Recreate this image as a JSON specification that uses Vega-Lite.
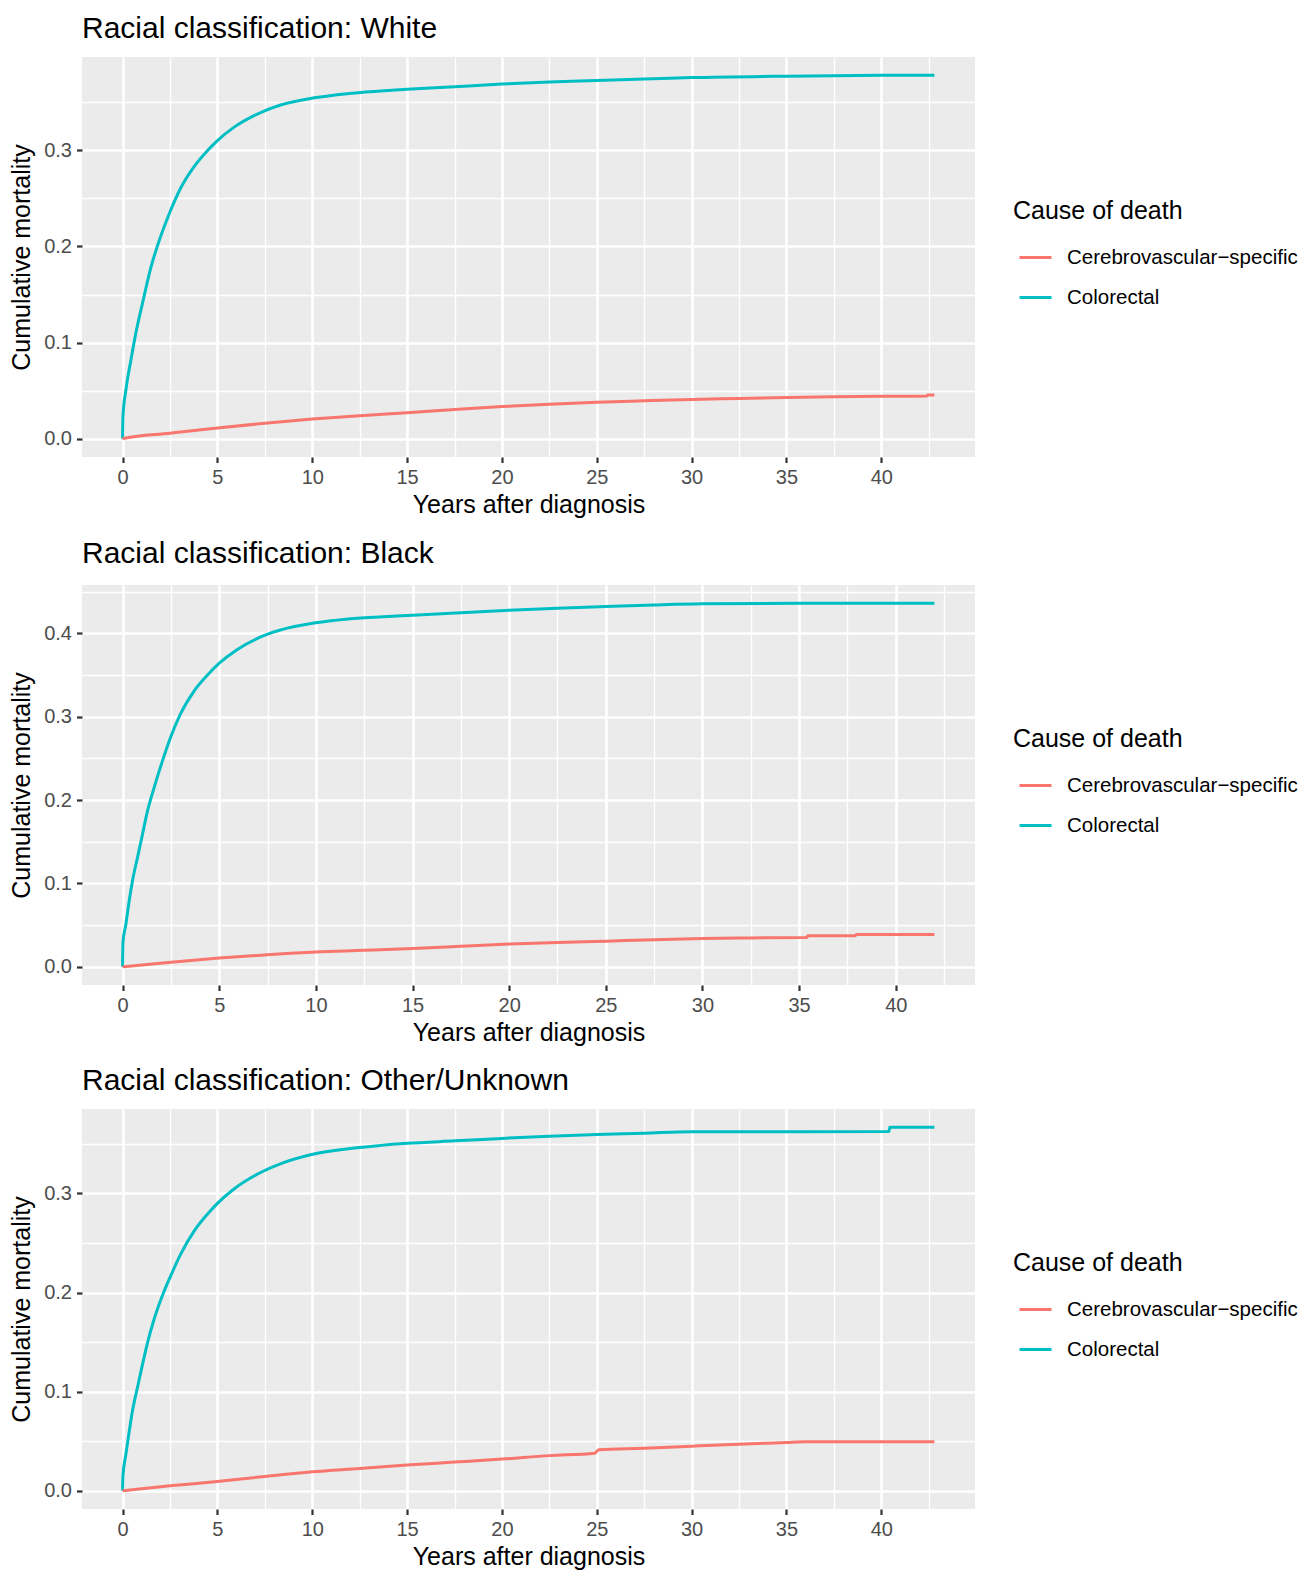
{
  "$schema": "https://vega.github.io/schema/vega-lite/v6.json",
  "background": "#FFFFFF",
  "padding": {"left": 9, "top": 14, "right": 0, "bottom": 0},
  "spacing": 20,
  "datasets": {
    "km": [
      {"p": "White", "c": "Colorectal", "t": 0, "v": 0},
      {"p": "White", "c": "Colorectal", "t": 0.02, "v": 0.023},
      {"p": "White", "c": "Colorectal", "t": 0.175, "v": 0.051},
      {"p": "White", "c": "Colorectal", "t": 0.44, "v": 0.082},
      {"p": "White", "c": "Colorectal", "t": 0.7, "v": 0.11},
      {"p": "White", "c": "Colorectal", "t": 1.05, "v": 0.141},
      {"p": "White", "c": "Colorectal", "t": 1.49, "v": 0.178},
      {"p": "White", "c": "Colorectal", "t": 1.93, "v": 0.206},
      {"p": "White", "c": "Colorectal", "t": 2.46, "v": 0.234},
      {"p": "White", "c": "Colorectal", "t": 3.07, "v": 0.261},
      {"p": "White", "c": "Colorectal", "t": 3.77, "v": 0.283},
      {"p": "White", "c": "Colorectal", "t": 4.47, "v": 0.2995},
      {"p": "White", "c": "Colorectal", "t": 5.0, "v": 0.31},
      {"p": "White", "c": "Colorectal", "t": 5.88, "v": 0.324},
      {"p": "White", "c": "Colorectal", "t": 6.93, "v": 0.336},
      {"p": "White", "c": "Colorectal", "t": 8.33, "v": 0.347},
      {"p": "White", "c": "Colorectal", "t": 10.1, "v": 0.3545},
      {"p": "White", "c": "Colorectal", "t": 11.84, "v": 0.3588},
      {"p": "White", "c": "Colorectal", "t": 13.6, "v": 0.3615},
      {"p": "White", "c": "Colorectal", "t": 15, "v": 0.3633},
      {"p": "White", "c": "Colorectal", "t": 17.5, "v": 0.366},
      {"p": "White", "c": "Colorectal", "t": 20, "v": 0.3688},
      {"p": "White", "c": "Colorectal", "t": 22.5, "v": 0.371},
      {"p": "White", "c": "Colorectal", "t": 25, "v": 0.3725},
      {"p": "White", "c": "Colorectal", "t": 27.5, "v": 0.374},
      {"p": "White", "c": "Colorectal", "t": 30, "v": 0.3755},
      {"p": "White", "c": "Colorectal", "t": 35, "v": 0.377},
      {"p": "White", "c": "Colorectal", "t": 40, "v": 0.3778},
      {"p": "White", "c": "Colorectal", "t": 42.8, "v": 0.378},
      {"p": "White", "c": "Cerebrovascular−specific", "t": 0, "v": 0},
      {"p": "White", "c": "Cerebrovascular−specific", "t": 0.1, "v": 0.0005},
      {"p": "White", "c": "Cerebrovascular−specific", "t": 2.5, "v": 0.0058},
      {"p": "White", "c": "Cerebrovascular−specific", "t": 5, "v": 0.0112},
      {"p": "White", "c": "Cerebrovascular−specific", "t": 7.5, "v": 0.0162},
      {"p": "White", "c": "Cerebrovascular−specific", "t": 10, "v": 0.0205},
      {"p": "White", "c": "Cerebrovascular−specific", "t": 12.5, "v": 0.024},
      {"p": "White", "c": "Cerebrovascular−specific", "t": 15, "v": 0.0272},
      {"p": "White", "c": "Cerebrovascular−specific", "t": 17.5, "v": 0.0305},
      {"p": "White", "c": "Cerebrovascular−specific", "t": 20, "v": 0.0335},
      {"p": "White", "c": "Cerebrovascular−specific", "t": 22.5, "v": 0.036},
      {"p": "White", "c": "Cerebrovascular−specific", "t": 25, "v": 0.038},
      {"p": "White", "c": "Cerebrovascular−specific", "t": 27.5, "v": 0.0395},
      {"p": "White", "c": "Cerebrovascular−specific", "t": 30, "v": 0.041},
      {"p": "White", "c": "Cerebrovascular−specific", "t": 32.5, "v": 0.042},
      {"p": "White", "c": "Cerebrovascular−specific", "t": 35, "v": 0.043},
      {"p": "White", "c": "Cerebrovascular−specific", "t": 37.5, "v": 0.0437},
      {"p": "White", "c": "Cerebrovascular−specific", "t": 40, "v": 0.0442},
      {"p": "White", "c": "Cerebrovascular−specific", "t": 42.4, "v": 0.0444},
      {"p": "White", "c": "Cerebrovascular−specific", "t": 42.45, "v": 0.0455},
      {"p": "White", "c": "Cerebrovascular−specific", "t": 42.8, "v": 0.0455},
      {"p": "Black", "c": "Colorectal", "t": 0, "v": 0},
      {"p": "Black", "c": "Colorectal", "t": 0.02, "v": 0.029},
      {"p": "Black", "c": "Colorectal", "t": 0.17, "v": 0.051},
      {"p": "Black", "c": "Colorectal", "t": 0.34, "v": 0.079},
      {"p": "Black", "c": "Colorectal", "t": 0.51, "v": 0.103},
      {"p": "Black", "c": "Colorectal", "t": 0.77, "v": 0.131},
      {"p": "Black", "c": "Colorectal", "t": 1.03, "v": 0.159},
      {"p": "Black", "c": "Colorectal", "t": 1.28, "v": 0.186},
      {"p": "Black", "c": "Colorectal", "t": 1.62, "v": 0.214},
      {"p": "Black", "c": "Colorectal", "t": 2.05, "v": 0.246},
      {"p": "Black", "c": "Colorectal", "t": 2.48, "v": 0.275},
      {"p": "Black", "c": "Colorectal", "t": 2.99, "v": 0.303},
      {"p": "Black", "c": "Colorectal", "t": 3.68, "v": 0.33},
      {"p": "Black", "c": "Colorectal", "t": 4.36, "v": 0.349},
      {"p": "Black", "c": "Colorectal", "t": 5.0, "v": 0.364},
      {"p": "Black", "c": "Colorectal", "t": 5.9, "v": 0.38},
      {"p": "Black", "c": "Colorectal", "t": 7.09, "v": 0.395},
      {"p": "Black", "c": "Colorectal", "t": 8.12, "v": 0.4035},
      {"p": "Black", "c": "Colorectal", "t": 10, "v": 0.4125},
      {"p": "Black", "c": "Colorectal", "t": 11.54, "v": 0.4168},
      {"p": "Black", "c": "Colorectal", "t": 13.25, "v": 0.4195},
      {"p": "Black", "c": "Colorectal", "t": 15, "v": 0.4215},
      {"p": "Black", "c": "Colorectal", "t": 17.5, "v": 0.4244},
      {"p": "Black", "c": "Colorectal", "t": 20, "v": 0.4275},
      {"p": "Black", "c": "Colorectal", "t": 22.5, "v": 0.43},
      {"p": "Black", "c": "Colorectal", "t": 25, "v": 0.432},
      {"p": "Black", "c": "Colorectal", "t": 27.5, "v": 0.4338},
      {"p": "Black", "c": "Colorectal", "t": 30, "v": 0.4352},
      {"p": "Black", "c": "Colorectal", "t": 35, "v": 0.436},
      {"p": "Black", "c": "Colorectal", "t": 42, "v": 0.436},
      {"p": "Black", "c": "Cerebrovascular−specific", "t": 0, "v": 0},
      {"p": "Black", "c": "Cerebrovascular−specific", "t": 2.5, "v": 0.0055},
      {"p": "Black", "c": "Cerebrovascular−specific", "t": 5, "v": 0.0105},
      {"p": "Black", "c": "Cerebrovascular−specific", "t": 7.5, "v": 0.0145},
      {"p": "Black", "c": "Cerebrovascular−specific", "t": 10, "v": 0.0178},
      {"p": "Black", "c": "Cerebrovascular−specific", "t": 12.5, "v": 0.0198},
      {"p": "Black", "c": "Cerebrovascular−specific", "t": 15, "v": 0.022},
      {"p": "Black", "c": "Cerebrovascular−specific", "t": 17.5, "v": 0.0246},
      {"p": "Black", "c": "Cerebrovascular−specific", "t": 20, "v": 0.0273},
      {"p": "Black", "c": "Cerebrovascular−specific", "t": 22.5, "v": 0.0292},
      {"p": "Black", "c": "Cerebrovascular−specific", "t": 25, "v": 0.0308},
      {"p": "Black", "c": "Cerebrovascular−specific", "t": 27.5, "v": 0.0326},
      {"p": "Black", "c": "Cerebrovascular−specific", "t": 30, "v": 0.0339},
      {"p": "Black", "c": "Cerebrovascular−specific", "t": 32.5, "v": 0.0347},
      {"p": "Black", "c": "Cerebrovascular−specific", "t": 35.4, "v": 0.0352},
      {"p": "Black", "c": "Cerebrovascular−specific", "t": 35.45, "v": 0.0372},
      {"p": "Black", "c": "Cerebrovascular−specific", "t": 37.9, "v": 0.0372},
      {"p": "Black", "c": "Cerebrovascular−specific", "t": 37.95, "v": 0.0388},
      {"p": "Black", "c": "Cerebrovascular−specific", "t": 42, "v": 0.0388},
      {"p": "Other/Unknown", "c": "Colorectal", "t": 0, "v": 0},
      {"p": "Other/Unknown", "c": "Colorectal", "t": 0.02, "v": 0.015},
      {"p": "Other/Unknown", "c": "Colorectal", "t": 0.175, "v": 0.037},
      {"p": "Other/Unknown", "c": "Colorectal", "t": 0.35, "v": 0.06},
      {"p": "Other/Unknown", "c": "Colorectal", "t": 0.52, "v": 0.0805},
      {"p": "Other/Unknown", "c": "Colorectal", "t": 0.78, "v": 0.104},
      {"p": "Other/Unknown", "c": "Colorectal", "t": 1.05, "v": 0.1275},
      {"p": "Other/Unknown", "c": "Colorectal", "t": 1.31, "v": 0.149},
      {"p": "Other/Unknown", "c": "Colorectal", "t": 1.66, "v": 0.173},
      {"p": "Other/Unknown", "c": "Colorectal", "t": 2.1, "v": 0.197},
      {"p": "Other/Unknown", "c": "Colorectal", "t": 2.54, "v": 0.217},
      {"p": "Other/Unknown", "c": "Colorectal", "t": 3.07, "v": 0.239},
      {"p": "Other/Unknown", "c": "Colorectal", "t": 3.77, "v": 0.262},
      {"p": "Other/Unknown", "c": "Colorectal", "t": 4.47, "v": 0.279},
      {"p": "Other/Unknown", "c": "Colorectal", "t": 5.0, "v": 0.29},
      {"p": "Other/Unknown", "c": "Colorectal", "t": 5.84, "v": 0.304},
      {"p": "Other/Unknown", "c": "Colorectal", "t": 6.88, "v": 0.317},
      {"p": "Other/Unknown", "c": "Colorectal", "t": 8.28, "v": 0.3295},
      {"p": "Other/Unknown", "c": "Colorectal", "t": 9.97, "v": 0.3392},
      {"p": "Other/Unknown", "c": "Colorectal", "t": 11.8, "v": 0.3448},
      {"p": "Other/Unknown", "c": "Colorectal", "t": 13.5, "v": 0.3482},
      {"p": "Other/Unknown", "c": "Colorectal", "t": 15, "v": 0.3505},
      {"p": "Other/Unknown", "c": "Colorectal", "t": 17.5, "v": 0.353},
      {"p": "Other/Unknown", "c": "Colorectal", "t": 20, "v": 0.3555},
      {"p": "Other/Unknown", "c": "Colorectal", "t": 22.5, "v": 0.3577},
      {"p": "Other/Unknown", "c": "Colorectal", "t": 25, "v": 0.3594},
      {"p": "Other/Unknown", "c": "Colorectal", "t": 27.5, "v": 0.3607},
      {"p": "Other/Unknown", "c": "Colorectal", "t": 30, "v": 0.3622},
      {"p": "Other/Unknown", "c": "Colorectal", "t": 40.4, "v": 0.3624},
      {"p": "Other/Unknown", "c": "Colorectal", "t": 40.45, "v": 0.3668},
      {"p": "Other/Unknown", "c": "Colorectal", "t": 42.8, "v": 0.3668},
      {"p": "Other/Unknown", "c": "Cerebrovascular−specific", "t": 0, "v": 0},
      {"p": "Other/Unknown", "c": "Cerebrovascular−specific", "t": 2.5, "v": 0.005},
      {"p": "Other/Unknown", "c": "Cerebrovascular−specific", "t": 5, "v": 0.0094},
      {"p": "Other/Unknown", "c": "Cerebrovascular−specific", "t": 7.5, "v": 0.0145},
      {"p": "Other/Unknown", "c": "Cerebrovascular−specific", "t": 10, "v": 0.0192},
      {"p": "Other/Unknown", "c": "Cerebrovascular−specific", "t": 12.5, "v": 0.0225},
      {"p": "Other/Unknown", "c": "Cerebrovascular−specific", "t": 15, "v": 0.026},
      {"p": "Other/Unknown", "c": "Cerebrovascular−specific", "t": 17.5, "v": 0.029},
      {"p": "Other/Unknown", "c": "Cerebrovascular−specific", "t": 20, "v": 0.032},
      {"p": "Other/Unknown", "c": "Cerebrovascular−specific", "t": 22.5, "v": 0.0355},
      {"p": "Other/Unknown", "c": "Cerebrovascular−specific", "t": 24.9, "v": 0.038},
      {"p": "Other/Unknown", "c": "Cerebrovascular−specific", "t": 25.1, "v": 0.0415},
      {"p": "Other/Unknown", "c": "Cerebrovascular−specific", "t": 27.5, "v": 0.043},
      {"p": "Other/Unknown", "c": "Cerebrovascular−specific", "t": 30, "v": 0.045},
      {"p": "Other/Unknown", "c": "Cerebrovascular−specific", "t": 32.5, "v": 0.047},
      {"p": "Other/Unknown", "c": "Cerebrovascular−specific", "t": 35, "v": 0.0488},
      {"p": "Other/Unknown", "c": "Cerebrovascular−specific", "t": 36, "v": 0.0495},
      {"p": "Other/Unknown", "c": "Cerebrovascular−specific", "t": 42.8, "v": 0.0495}
    ]
  },
  "data": {"name": "km"},
  "resolve": {"scale": {"x": "independent", "y": "independent", "color": "independent"}, "legend": {"color": "independent"}, "axis": {"x": "independent", "y": "independent"}},
  "vconcat": [
    {
      "title": {"text": "Racial classification: White"},
      "width": 893, "height": 400,
      "transform": [{"filter": "datum.p === 'White'"}],
      "mark": {"type": "line", "strokeWidth": 3, "interpolate": "monotone"},
      "encoding": {
        "x": {"field": "t", "type": "quantitative", "title": "Years after diagnosis",
          "scale": {"domain": [-2.14, 44.94], "nice": false, "zero": false},
          "axis": {"values": [0, 2.5, 5, 7.5, 10, 12.5, 15, 17.5, 20, 22.5, 25, 27.5, 30, 32.5, 35, 37.5, 40, 42.5],
            "labelExpr": "datum.value % 5 === 0 ? datum.label : ''",
            "tickOpacity": {"condition": {"test": "datum.value % 5 === 0", "value": 1}, "value": 0},
            "gridWidth": {"condition": {"test": "datum.value % 5 === 0", "value": 2.6}, "value": 1.3}}},
        "y": {"field": "v", "type": "quantitative", "title": "Cumulative mortality",
          "scale": {"domain": [-0.0189, 0.3969], "nice": false, "zero": false},
          "axis": {"values": [0, 0.05, 0.1, 0.15, 0.2, 0.25, 0.3, 0.35],
            "labelExpr": "round(datum.value*20) % 2 === 0 ? format(datum.value, '.1f') : ''",
            "tickOpacity": {"condition": {"test": "round(datum.value*20) % 2 === 0", "value": 1}, "value": 0},
            "gridWidth": {"condition": {"test": "round(datum.value*20) % 2 === 0", "value": 2.6}, "value": 1.3}}},
        "color": {"field": "c", "type": "nominal", "title": "Cause of death",
          "scale": {"domain": ["Cerebrovascular−specific", "Colorectal"], "range": ["#F8766D", "#00BFC4"]}}
      }
    },
    {
      "title": {"text": "Racial classification: Black"},
      "width": 893, "height": 400,
      "transform": [{"filter": "datum.p === 'Black'"}],
      "mark": {"type": "line", "strokeWidth": 3, "interpolate": "monotone"},
      "encoding": {
        "x": {"field": "t", "type": "quantitative", "title": "Years after diagnosis",
          "scale": {"domain": [-2.1, 44.1], "nice": false, "zero": false},
          "axis": {"values": [0, 2.5, 5, 7.5, 10, 12.5, 15, 17.5, 20, 22.5, 25, 27.5, 30, 32.5, 35, 37.5, 40, 42.5],
            "labelExpr": "datum.value % 5 === 0 ? datum.label : ''",
            "tickOpacity": {"condition": {"test": "datum.value % 5 === 0", "value": 1}, "value": 0},
            "gridWidth": {"condition": {"test": "datum.value % 5 === 0", "value": 2.6}, "value": 1.3}}},
        "y": {"field": "v", "type": "quantitative", "title": "Cumulative mortality",
          "scale": {"domain": [-0.0218, 0.4578], "nice": false, "zero": false},
          "axis": {"values": [0, 0.05, 0.1, 0.15, 0.2, 0.25, 0.3, 0.35, 0.4, 0.45],
            "labelExpr": "round(datum.value*20) % 2 === 0 ? format(datum.value, '.1f') : ''",
            "tickOpacity": {"condition": {"test": "round(datum.value*20) % 2 === 0", "value": 1}, "value": 0},
            "gridWidth": {"condition": {"test": "round(datum.value*20) % 2 === 0", "value": 2.6}, "value": 1.3}}},
        "color": {"field": "c", "type": "nominal", "title": "Cause of death",
          "scale": {"domain": ["Cerebrovascular−specific", "Colorectal"], "range": ["#F8766D", "#00BFC4"]}}
      }
    },
    {
      "title": {"text": "Racial classification: Other/Unknown"},
      "width": 893, "height": 400,
      "transform": [{"filter": "datum.p === 'Other/Unknown'"}],
      "mark": {"type": "line", "strokeWidth": 3, "interpolate": "monotone"},
      "encoding": {
        "x": {"field": "t", "type": "quantitative", "title": "Years after diagnosis",
          "scale": {"domain": [-2.14, 44.94], "nice": false, "zero": false},
          "axis": {"values": [0, 2.5, 5, 7.5, 10, 12.5, 15, 17.5, 20, 22.5, 25, 27.5, 30, 32.5, 35, 37.5, 40, 42.5],
            "labelExpr": "datum.value % 5 === 0 ? datum.label : ''",
            "tickOpacity": {"condition": {"test": "datum.value % 5 === 0", "value": 1}, "value": 0},
            "gridWidth": {"condition": {"test": "datum.value % 5 === 0", "value": 2.6}, "value": 1.3}}},
        "y": {"field": "v", "type": "quantitative", "title": "Cumulative mortality",
          "scale": {"domain": [-0.01834, 0.38514], "nice": false, "zero": false},
          "axis": {"values": [0, 0.05, 0.1, 0.15, 0.2, 0.25, 0.3, 0.35],
            "labelExpr": "round(datum.value*20) % 2 === 0 ? format(datum.value, '.1f') : ''",
            "tickOpacity": {"condition": {"test": "round(datum.value*20) % 2 === 0", "value": 1}, "value": 0},
            "gridWidth": {"condition": {"test": "round(datum.value*20) % 2 === 0", "value": 2.6}, "value": 1.3}}},
        "color": {"field": "c", "type": "nominal", "title": "Cause of death",
          "scale": {"domain": ["Cerebrovascular−specific", "Colorectal"], "range": ["#F8766D", "#00BFC4"]}}
      }
    }
  ],
  "config": {
    "font": "Liberation Sans",
    "view": {"fill": "#EBEBEB", "stroke": null},
    "title": {"anchor": "start", "frame": "group", "fontSize": 30, "fontWeight": "normal", "color": "#000000", "offset": 13},
    "axis": {"domain": false, "grid": true, "gridColor": "#FFFFFF", "tickColor": "#333333", "tickSize": 5.5, "tickWidth": 2.2,
      "labelColor": "#4D4D4D", "labelFontSize": 20, "labelPadding": 5, "labelOverlap": false, "labelFlush": false,
      "titleFontSize": 25, "titleFontWeight": "normal", "titleColor": "#000000"},
    "axisX": {"titlePadding": 5},
    "axisY": {"titlePadding": 9},
    "legend": {"orient": "none", "legendX": 931, "legendY": 142, "titleFontSize": 25, "titleFontWeight": "normal", "titleColor": "#000000",
      "labelFontSize": 20.5, "labelColor": "#000000", "symbolType": "stroke", "symbolSize": 1024, "symbolStrokeWidth": 3,
      "symbolOffset": 5, "labelOffset": 14, "rowPadding": 12, "titlePadding": 16, "labelLimit": 400}
  }
}
